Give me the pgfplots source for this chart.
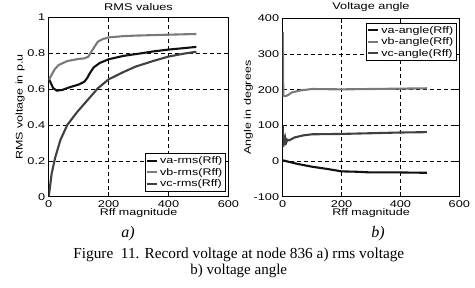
\documentclass[border=0pt]{standalone}
\usepackage{pgfplots}
\pgfplotsset{compat=1.18}
\usepackage{fontspec}
\setmainfont{Liberation Sans}[FakeStretch=1.3]
\newfontfamily\serifrm{Liberation Serif}
\definecolor{cva}{HTML}{111111}
\definecolor{cvb}{HTML}{7A7A7A}
\definecolor{cvc}{HTML}{404040}
\pgfplotsset{
  myax/.style={
    scale only axis,
    anchor=south west,
    /pgf/number format/assume math mode=true,
    tick label style={font=\fontsize{9.8}{11}\selectfont},
    label style={font=\fontsize{9.6}{11}\selectfont},
    title style={font=\fontsize{9.8}{11}\selectfont, yshift=-3pt},
    legend style={font=\fontsize{9.6}{11}\selectfont, draw=black, line width=0.6pt, inner sep=1pt, row sep=-1pt},
    legend cell align=left,
    legend image code/.code={\draw[#1] (0cm,0cm) -- (0.35cm,0cm);},
    grid=major,
    major grid style={dashed, black, line width=0.5pt, dash pattern=on 4pt off 3pt},
    axis line style={line width=0.6pt},
    tick style={black, line width=0.5pt},
    tick align=inside,
    xmin=0, xmax=600,
    xtick={0,200,400,600},
    xlabel={Rff magnitude},
    xlabel style={yshift=5pt},
    every axis plot/.append style={line width=2.1pt},
  }
}
\begin{document}
\begin{tikzpicture}[x=1pt,y=1pt]
\path[use as bounding box] (0,0) rectangle (475,288);
\begin{axis}[myax,
  at={(48.7pt,91.3pt)}, width=179.7pt, height=179.4pt,
  ymin=0, ymax=1, ytick={0,0.2,0.4,0.6,0.8,1},
  yticklabels={0,0.2,0.4,0.6,0.8,1},
  ylabel={RMS voltage in p.u},
  ylabel style={yshift=-4pt},
  title={RMS values},
  legend style={at={(0.985,0.03)}, anchor=south east},
]
\addplot[cva] coordinates {(0,0.66) (8,0.63) (15,0.605) (27,0.591) (45,0.595) (70,0.61) (100,0.625) (119,0.641) (128,0.66) (138,0.69) (150,0.72) (170,0.745) (200,0.766) (250,0.785) (300,0.797) (350,0.81) (400,0.82) (450,0.828) (493,0.835)};
\addlegendentry{va-rms(Rff)}
\addplot[cvb] coordinates {(0,0.65) (10,0.68) (20,0.71) (33,0.734) (62,0.756) (100,0.768) (119,0.771) (132,0.78) (145,0.815) (164,0.864) (180,0.878) (200,0.888) (250,0.895) (290,0.898) (400,0.903) (493,0.907)};
\addlegendentry{vb-rms(Rff)}
\addplot[cvc] coordinates {(0,0) (4,0.05) (10,0.13) (22,0.22) (39,0.316) (62,0.40) (96,0.474) (130,0.539) (164,0.604) (200,0.654) (250,0.695) (290,0.725) (350,0.757) (400,0.781) (450,0.797) (493,0.808)};
\addlegendentry{vc-rms(Rff)}
\end{axis}
\begin{axis}[myax,
  at={(282.7pt,91.3pt)}, width=176.6pt, height=178.3pt,
  ymin=-100, ymax=400, ytick={-100,0,100,200,300,400},
  ylabel={Angle in degrees},
  ylabel style={yshift=-6pt},
  title={Voltage angle},
  legend style={at={(0.985,0.975)}, anchor=north east},
]
\addplot[cva] coordinates {(0,2) (25,-3) (50,-8) (100,-16) (150,-22) (200,-29) (250,-30) (300,-32) (400,-32) (490,-33)};
\addlegendentry{va-angle(Rff)}
\addplot[cvb] coordinates {(0,362) (1,300) (2,183) (10,182) (20,186) (30,192) (60,198) (100,202) (200,201) (300,202) (400,203) (490,204)};
\addlegendentry{vb-angle(Rff)}
\addplot[cvc] coordinates {(0,100) (2,40) (4,72) (6,45) (9,64) (12,52) (16,60) (22,58) (40,66) (70,72) (100,75) (200,76) (300,78) (400,80) (490,81)};
\addlegendentry{vc-angle(Rff)}
\end{axis}
\node[anchor=base, font=\serifrm\itshape\fontsize{16}{18}\selectfont] at (128,50) {a)};
\node[anchor=base, font=\serifrm\itshape\fontsize{16}{18}\selectfont] at (378,50) {b)};
\node[anchor=base, font=\serifrm\fontsize{15.3}{17}\selectfont] at (238.8,29.7) {Figure\ \ 11. Record voltage at node 836 a) rms voltage};
\node[anchor=base, font=\serifrm\fontsize{15}{17}\selectfont] at (238.8,13.7) {b) voltage angle};
\end{tikzpicture}
\end{document}
